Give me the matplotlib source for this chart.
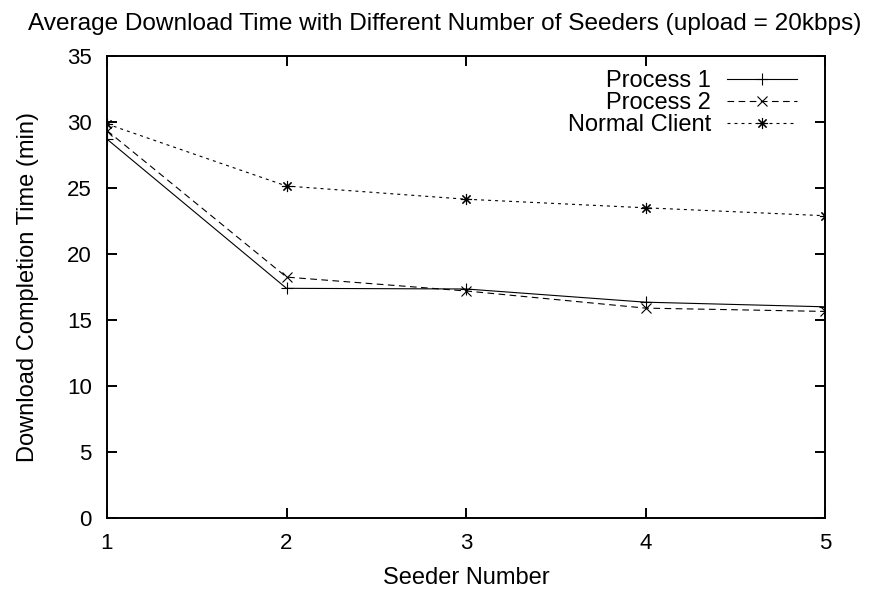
import numpy as np
import matplotlib.pyplot as plt

plt.rcParams['font.family'] = ['Liberation Sans', 'DejaVu Sans']

# data
seeders = [1, 2, 3, 4, 5]
process1 = [28.7, 17.4, 17.35, 16.35, 16.0]
process2 = [29.35, 18.25, 17.2, 15.9, 15.65]
normal = [29.85, 25.15, 24.15, 23.5, 22.9]

fig = plt.figure(figsize=(8.82, 5.91), dpi=100)
ax = fig.add_axes([107 / 882, 1 - 518 / 591, 718 / 882, 462 / 591])

ax.plot(seeders, process1, color='black', lw=0.8, marker='+', ms=8, mew=0.8,
        label='Process 1')
ax.plot(seeders, process2, color='black', lw=0.8, ls=(0, (6, 4)), marker='x', ms=7, mew=0.8,
        label='Process 2')
ax.plot(seeders, normal, color='black', lw=0.8, ls=(0, (2.7, 3.6)), marker=(8, 2, 0), ms=8,
        mew=0.8, label='Normal Client')

ax.set_xlim(1, 5)
ax.set_ylim(0, 35)
ax.set_xticks(seeders)
ax.set_yticks(np.arange(0, 36, 5))
ax.tick_params(direction='in', length=7, width=1.4, top=True, right=True,
               labelsize=16, pad=11)
for s in ax.spines.values():
    s.set_linewidth(1.4)

ax.set_xlabel('Seeder Number', fontsize=17, labelpad=9)
ax.set_ylabel('Download Completion Time (min)', fontsize=17, labelpad=20)
ax.set_title('Average Download Time with Different Number of Seeders (upload = 20kbps)',
             fontsize=17.6, pad=19, x=(445 - 107) / 718)

leg = ax.legend(loc='upper right', bbox_to_anchor=(0.961, 0.97), frameon=False,
                markerfirst=False, fontsize=17, handlelength=2.97, handletextpad=0.68,
                labelspacing=0.0, borderaxespad=0, borderpad=0)
for t in leg.get_texts():
    t.set_ha('right')
leg._legend_box.align = 'right'

fig.savefig('out.png', dpi=100)
